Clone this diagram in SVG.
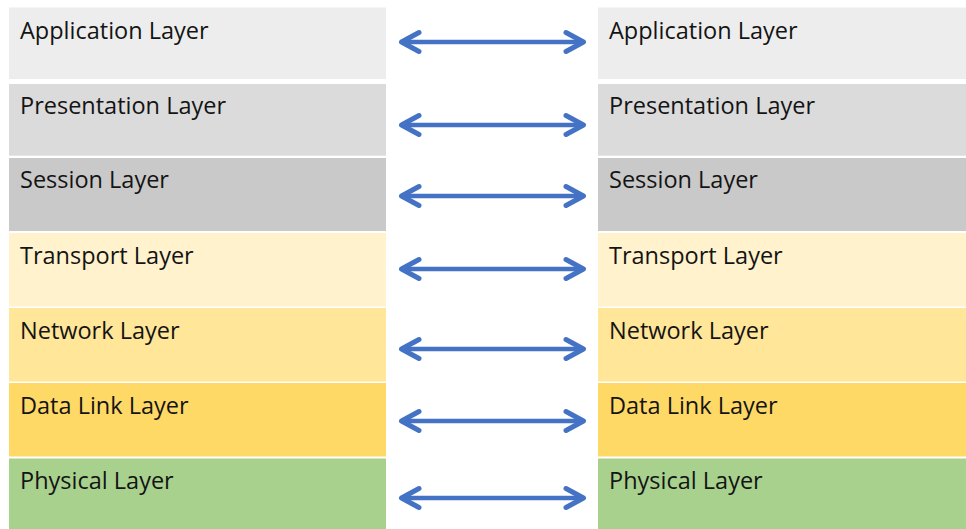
<svg xmlns="http://www.w3.org/2000/svg" width="966" height="529" viewBox="0 0 966 529">
<style>
.lbl{font-family:"Open Sans","Liberation Sans",sans-serif;font-size:23.5px;fill:#141414}
.conn{stroke:#4472C4;stroke-width:4.5;fill:none;marker-start:url(#head);marker-end:url(#head)}
</style>
<defs>
<marker id="head" markerUnits="userSpaceOnUse" viewBox="0 0 30 30" markerWidth="30" markerHeight="30" refX="23.5" refY="15" orient="auto-start-reverse">
<path d="M 6 5.5 L 23.5 15 L 6 24.5" fill="none" stroke="#4472C4" stroke-width="5" stroke-linecap="round" stroke-linejoin="round"/>
</marker>
</defs>
<rect width="966" height="529" fill="#ffffff"/>
<g id="left-application"><rect x="9" y="7.5" width="377" height="71.5" fill="#EDEDED"/><text class="lbl" x="20" y="39">Application Layer</text></g>
<g id="left-presentation"><rect x="9" y="84" width="377" height="71.7" fill="#DBDBDB"/><text class="lbl" x="20" y="114">Presentation Layer</text></g>
<g id="left-session"><rect x="9" y="158" width="377" height="73" fill="#C9C9C9"/><text class="lbl" x="20" y="188">Session Layer</text></g>
<g id="left-transport"><rect x="9" y="233" width="377" height="73.5" fill="#FFF2CC"/><text class="lbl" x="20" y="263.5">Transport Layer</text></g>
<g id="left-network"><rect x="9" y="308" width="377" height="73.5" fill="#FFE699"/><text class="lbl" x="20" y="338.5">Network Layer</text></g>
<g id="left-datalink"><rect x="9" y="383" width="377" height="73.5" fill="#FFD966"/><text class="lbl" x="20" y="414">Data Link Layer</text></g>
<g id="left-physical"><rect x="9" y="458.5" width="377" height="70.5" fill="#A9D18E"/><text class="lbl" x="20" y="489">Physical Layer</text></g>
<g id="right-application"><rect x="598" y="7.5" width="368" height="71.5" fill="#EDEDED"/><text class="lbl" x="609" y="39">Application Layer</text></g>
<g id="right-presentation"><rect x="598" y="84" width="368" height="71.7" fill="#DBDBDB"/><text class="lbl" x="609" y="114">Presentation Layer</text></g>
<g id="right-session"><rect x="598" y="158" width="368" height="73" fill="#C9C9C9"/><text class="lbl" x="609" y="188">Session Layer</text></g>
<g id="right-transport"><rect x="598" y="233" width="368" height="73.5" fill="#FFF2CC"/><text class="lbl" x="609" y="263.5">Transport Layer</text></g>
<g id="right-network"><rect x="598" y="308" width="368" height="73.5" fill="#FFE699"/><text class="lbl" x="609" y="338.5">Network Layer</text></g>
<g id="right-datalink"><rect x="598" y="383" width="368" height="73.5" fill="#FFD966"/><text class="lbl" x="609" y="414">Data Link Layer</text></g>
<g id="right-physical"><rect x="598" y="458.5" width="368" height="70.5" fill="#A9D18E"/><text class="lbl" x="609" y="489">Physical Layer</text></g>
<g id="connectors">
<line class="conn" x1="401.5" y1="42" x2="583.5" y2="42"/>
<line class="conn" x1="401.5" y1="125" x2="583.5" y2="125"/>
<line class="conn" x1="401.5" y1="196" x2="583.5" y2="196"/>
<line class="conn" x1="401.5" y1="269" x2="583.5" y2="269"/>
<line class="conn" x1="401.5" y1="349" x2="583.5" y2="349"/>
<line class="conn" x1="401.5" y1="421" x2="583.5" y2="421"/>
<line class="conn" x1="401.5" y1="498" x2="583.5" y2="498"/>
</g>
</svg>
